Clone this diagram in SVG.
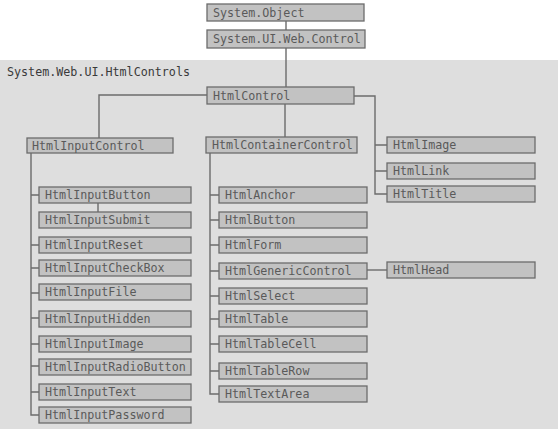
<svg xmlns="http://www.w3.org/2000/svg" width="558" height="429" viewBox="0 0 558 429">
<style>
.b{fill:#c2c2c2;stroke:#6c6c6c;stroke-width:1.3}
.t{font-family:"DejaVu Sans Mono","Liberation Mono",monospace;font-size:11.7px;fill:#5a5a5a}
.c{fill:none;stroke:#6c6c6c;stroke-width:1.4}
</style>
<rect x="0" y="0" width="558" height="429" fill="#ffffff"/>
<rect x="0" y="60" width="558" height="369" fill="#dedede"/>
<text x="7" y="76" class="t" style="fill:#3a3a3a">System.Web.UI.HtmlControls</text>
<g id="connectors">
<path class="c" d="M286 21V30M286 48V87"/>
<path class="c" d="M207 95H99V138M285 104V137"/>
<path class="c" d="M354 96H375V194H387M375 145H387M375 171H387"/>
<path class="c" d="M367 270H387"/>
<path class="c" d="M31 153V415H39M31 195H39M31 245H39M31 268H39M31 293H39M31 318H39M31 344H39M31 366H39M31 392H39M98 203V212"/>
<path class="c" d="M210 153V394H219M210 195H219M210 220H219M210 245H219M210 271H219M210 296H219M210 319H219M210 344H219M210 371H219"/>
</g>
<g id="System.Object"><rect class="b" x="207" y="4" width="157" height="17"/><text class="t" x="213" y="17">System.Object</text></g>
<g id="System.UI.Web.Control"><rect class="b" x="207" y="30" width="158" height="18"/><text class="t" x="213" y="43">System.UI.Web.Control</text></g>
<g id="HtmlControl"><rect class="b" x="207" y="87" width="147" height="17"/><text class="t" x="213" y="100">HtmlControl</text></g>
<g id="HtmlInputControl"><rect class="b" x="27" y="138" width="146" height="15"/><text class="t" x="32" y="150">HtmlInputControl</text></g>
<g id="HtmlContainerControl"><rect class="b" x="206" y="137" width="151" height="16"/><text class="t" x="212" y="149">HtmlContainerControl</text></g>
<g id="HtmlImage"><rect class="b" x="387" y="137" width="148" height="16"/><text class="t" x="393" y="149">HtmlImage</text></g>
<g id="HtmlLink"><rect class="b" x="387" y="163" width="148" height="16"/><text class="t" x="393" y="175">HtmlLink</text></g>
<g id="HtmlTitle"><rect class="b" x="387" y="186" width="148" height="16"/><text class="t" x="393" y="198">HtmlTitle</text></g>
<g id="HtmlHead"><rect class="b" x="387" y="262" width="148" height="16"/><text class="t" x="393" y="274">HtmlHead</text></g>
<g id="HtmlInputButton"><rect class="b" x="39" y="187" width="152" height="16"/><text class="t" x="45" y="199">HtmlInputButton</text></g>
<g id="HtmlInputSubmit"><rect class="b" x="39" y="212" width="152" height="16"/><text class="t" x="45" y="224">HtmlInputSubmit</text></g>
<g id="HtmlInputReset"><rect class="b" x="39" y="237" width="152" height="16"/><text class="t" x="45" y="249">HtmlInputReset</text></g>
<g id="HtmlInputCheckBox"><rect class="b" x="39" y="260" width="152" height="16"/><text class="t" x="45" y="272">HtmlInputCheckBox</text></g>
<g id="HtmlInputFile"><rect class="b" x="39" y="284" width="152" height="16"/><text class="t" x="45" y="296">HtmlInputFile</text></g>
<g id="HtmlInputHidden"><rect class="b" x="39" y="311" width="152" height="16"/><text class="t" x="45" y="323">HtmlInputHidden</text></g>
<g id="HtmlInputImage"><rect class="b" x="39" y="336" width="152" height="16"/><text class="t" x="45" y="348">HtmlInputImage</text></g>
<g id="HtmlInputRadioButton"><rect class="b" x="39" y="359" width="152" height="16"/><text class="t" x="45" y="371">HtmlInputRadioButton</text></g>
<g id="HtmlInputText"><rect class="b" x="39" y="384" width="152" height="16"/><text class="t" x="45" y="396">HtmlInputText</text></g>
<g id="HtmlInputPassword"><rect class="b" x="39" y="407" width="152" height="16"/><text class="t" x="45" y="419">HtmlInputPassword</text></g>
<g id="HtmlAnchor"><rect class="b" x="219" y="187" width="148" height="16"/><text class="t" x="225" y="199">HtmlAnchor</text></g>
<g id="HtmlButton"><rect class="b" x="219" y="212" width="148" height="16"/><text class="t" x="225" y="224">HtmlButton</text></g>
<g id="HtmlForm"><rect class="b" x="219" y="237" width="148" height="16"/><text class="t" x="225" y="249">HtmlForm</text></g>
<g id="HtmlGenericControl"><rect class="b" x="219" y="263" width="148" height="16"/><text class="t" x="225" y="275">HtmlGenericControl</text></g>
<g id="HtmlSelect"><rect class="b" x="219" y="288" width="148" height="16"/><text class="t" x="225" y="300">HtmlSelect</text></g>
<g id="HtmlTable"><rect class="b" x="219" y="311" width="148" height="16"/><text class="t" x="225" y="323">HtmlTable</text></g>
<g id="HtmlTableCell"><rect class="b" x="219" y="336" width="148" height="16"/><text class="t" x="225" y="348">HtmlTableCell</text></g>
<g id="HtmlTableRow"><rect class="b" x="219" y="363" width="148" height="16"/><text class="t" x="225" y="375">HtmlTableRow</text></g>
<g id="HtmlTextArea"><rect class="b" x="219" y="386" width="148" height="16"/><text class="t" x="225" y="398">HtmlTextArea</text></g>
</svg>
